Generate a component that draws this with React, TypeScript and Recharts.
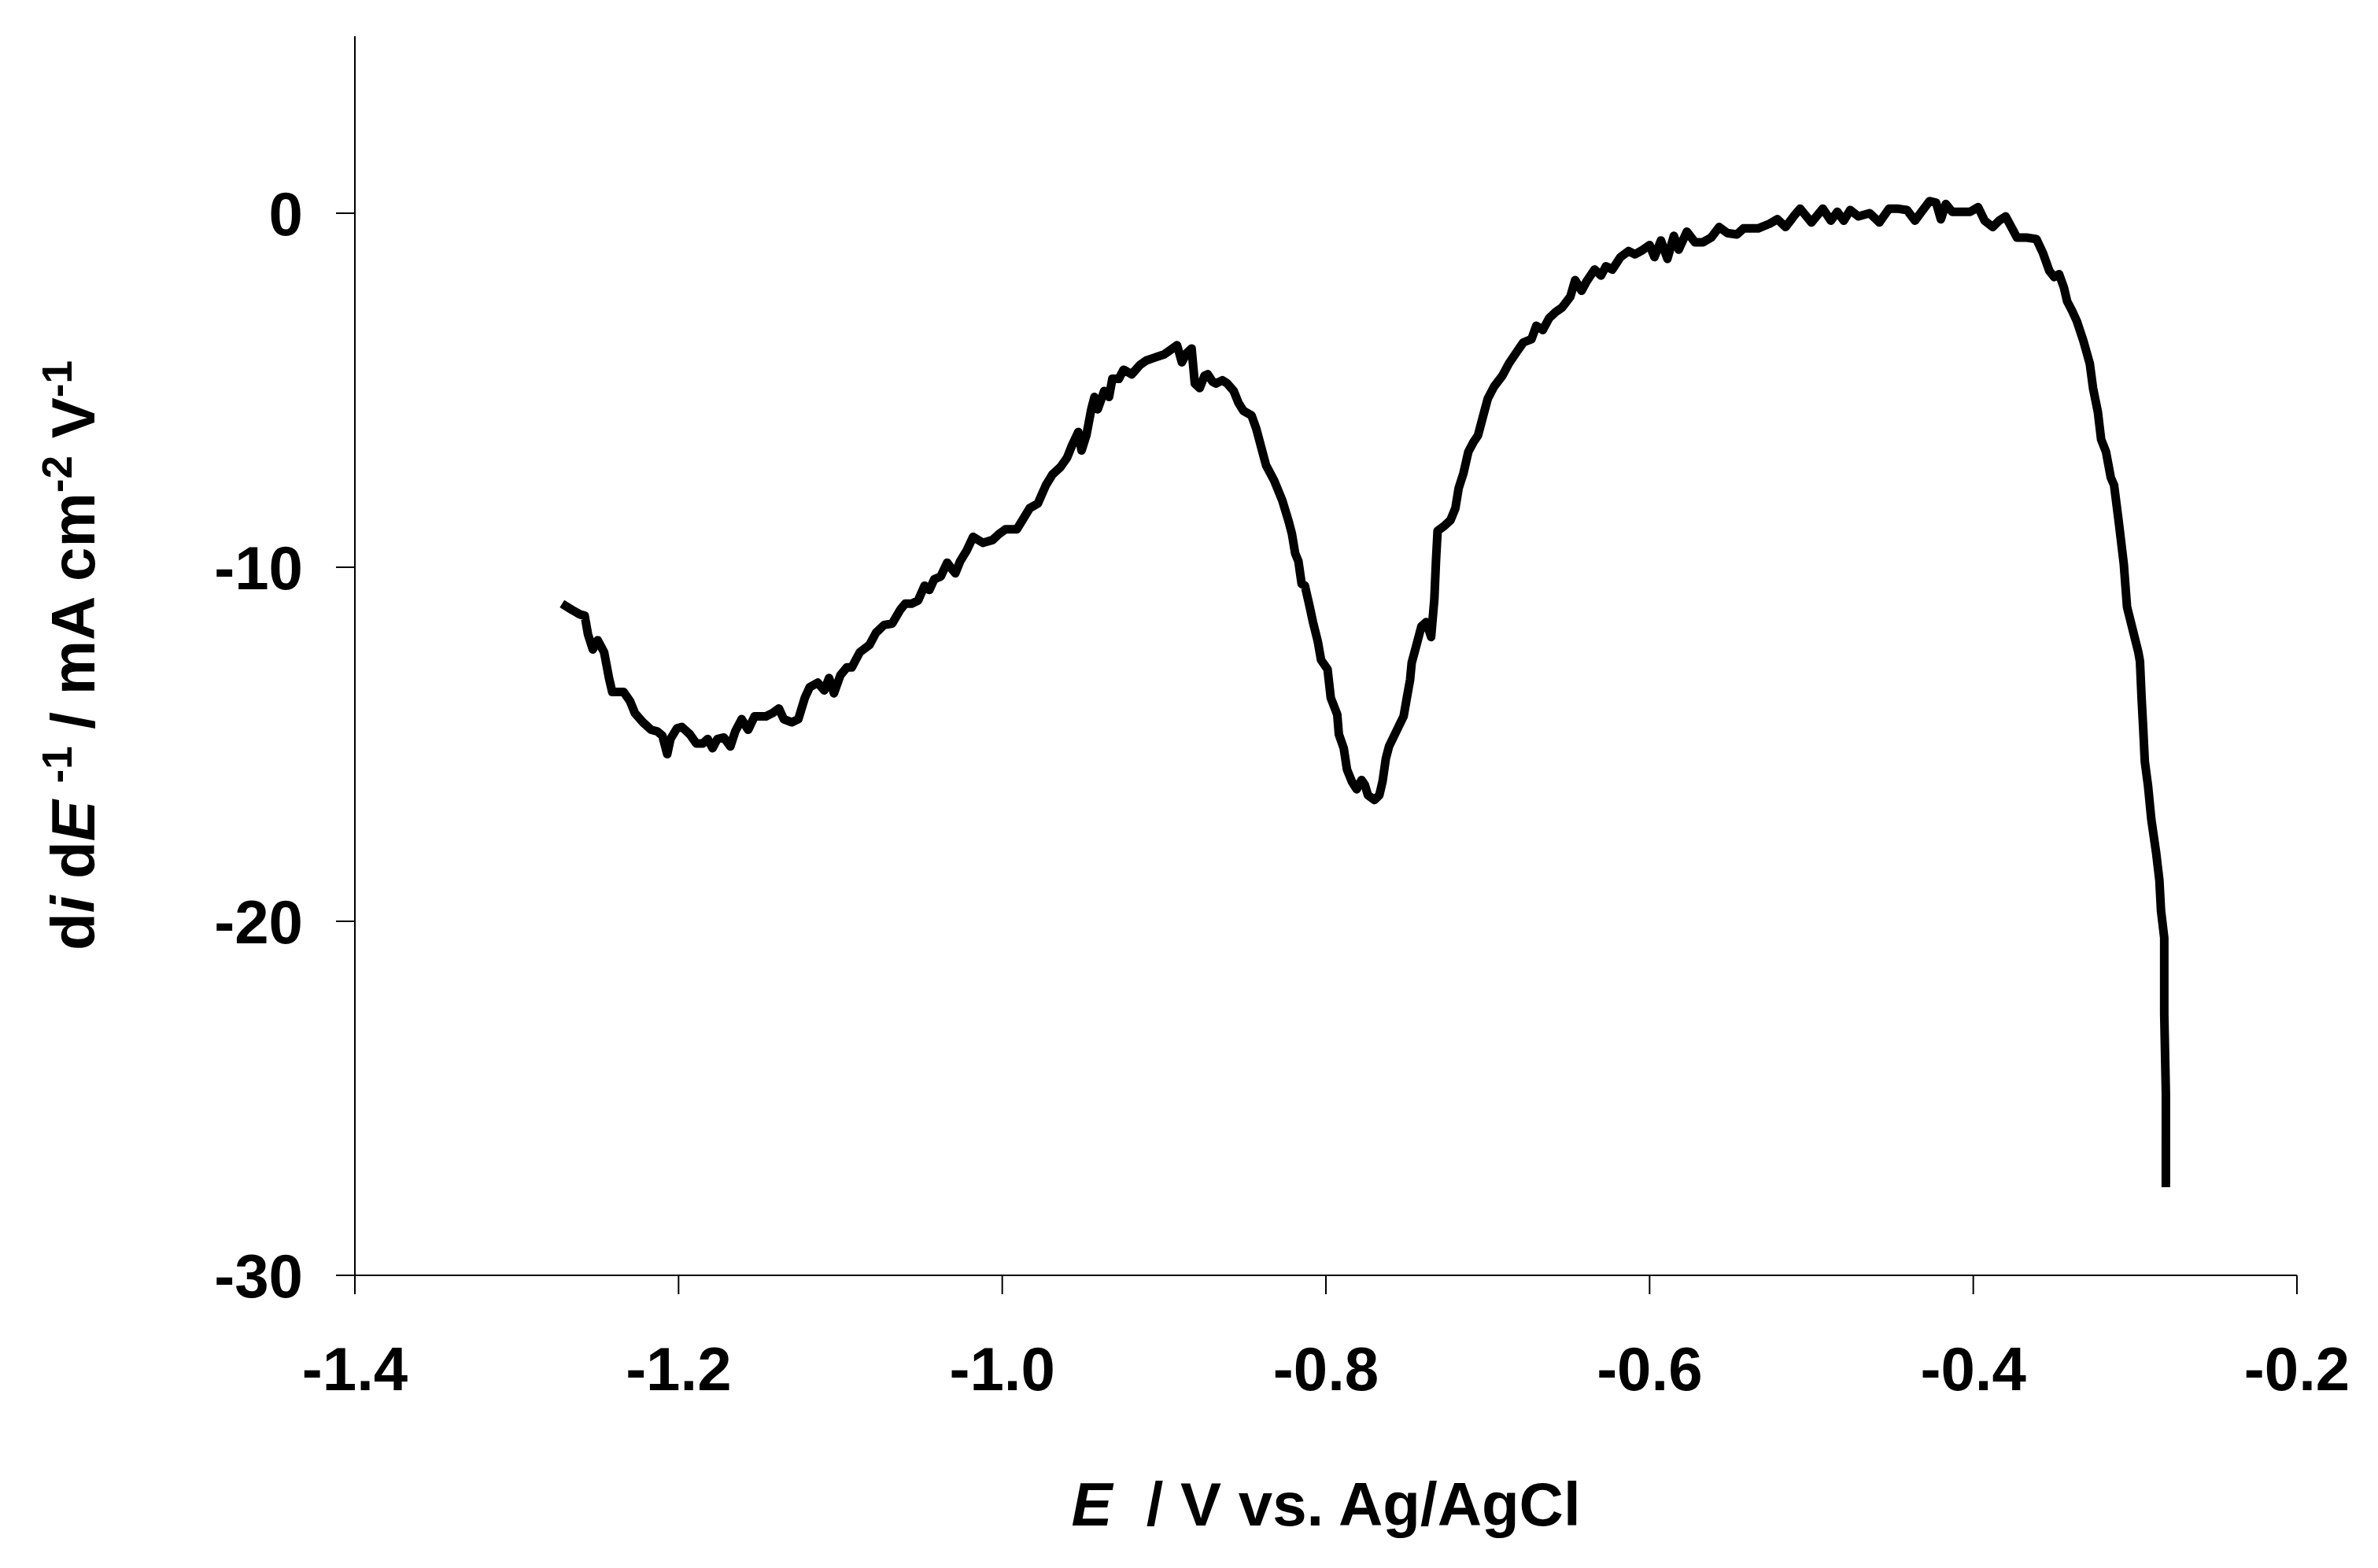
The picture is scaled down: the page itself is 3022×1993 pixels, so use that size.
import { LineChart, Line, XAxis, YAxis } from 'recharts';

// potential, V vs. Ag/AgCl
const potential = [
  -1.272, -1.266, -1.261, -1.258, -1.256, -1.253, -1.25, -1.246, -1.243, -1.241,
  -1.234, -1.23, -1.227, -1.222, -1.217, -1.213, -1.21, -1.207, -1.205, -1.201,
  -1.198, -1.193, -1.189, -1.185, -1.182, -1.179, -1.176, -1.172, -1.168, -1.165,
  -1.161, -1.157, -1.153, -1.146, -1.142, -1.138, -1.135, -1.13, -1.126, -1.122,
  -1.119, -1.114, -1.11, -1.107, -1.104, -1.1, -1.096, -1.093, -1.088, -1.082,
  -1.078, -1.073, -1.068, -1.063, -1.06, -1.056, -1.052, -1.048, -1.045, -1.042,
  -1.038, -1.034, -1.032, -1.029, -1.026, -1.022, -1.018, -1.012, -1.006, -1.002,
  -0.998, -0.991, -0.987, -0.983, -0.978, -0.973, -0.969, -0.964, -0.96, -0.957,
  -0.953, -0.951, -0.948, -0.945, -0.943, -0.941, -0.937, -0.934, -0.932, -0.928,
  -0.925, -0.92, -0.915, -0.911, -0.906, -0.9, -0.896, -0.892, -0.889, -0.886,
  -0.883, -0.881, -0.878, -0.875, -0.873, -0.87, -0.868, -0.864, -0.861, -0.857,
  -0.854, -0.851, -0.846, -0.843, -0.84, -0.837, -0.832, -0.827, -0.823, -0.821,
  -0.819, -0.817, -0.815, -0.813, -0.81, -0.808, -0.805, -0.803, -0.799, -0.797,
  -0.793, -0.792, -0.789, -0.787, -0.784, -0.781, -0.778, -0.776, -0.774, -0.77,
  -0.767, -0.765, -0.763, -0.761, -0.757, -0.752, -0.75, -0.748, -0.747, -0.744,
  -0.741, -0.738, -0.735, -0.733, -0.732, -0.731, -0.727, -0.723, -0.72, -0.718,
  -0.715, -0.712, -0.709, -0.706, -0.703, -0.7, -0.696, -0.691, -0.687, -0.682,
  -0.678, -0.673, -0.67, -0.666, -0.662, -0.658, -0.654, -0.649, -0.646, -0.642,
  -0.639, -0.634, -0.63, -0.627, -0.623, -0.618, -0.613, -0.609, -0.604, -0.6,
  -0.597, -0.593, -0.589, -0.585, -0.582, -0.577, -0.572, -0.567, -0.562, -0.557,
  -0.552, -0.546, -0.542, -0.533, -0.526, -0.521, -0.516, -0.511, -0.507, -0.5,
  -0.493, -0.488, -0.484, -0.48, -0.476, -0.471, -0.464, -0.458, -0.452, -0.447,
  -0.441, -0.436, -0.432, -0.427, -0.423, -0.42, -0.417, -0.413, -0.406, -0.402,
  -0.397, -0.393, -0.388, -0.384, -0.38, -0.376, -0.373, -0.367, -0.361, -0.357,
  -0.353, -0.35, -0.347, -0.344, -0.342, -0.339, -0.336, -0.332, -0.328, -0.326,
  -0.323, -0.321, -0.318, -0.315, -0.313, -0.31, -0.307, -0.305, -0.302, -0.298,
  -0.297, -0.296, -0.295, -0.294, -0.292, -0.29, -0.287, -0.285, -0.284, -0.282,
  -0.282, -0.281, -0.281,
];

// di/dE, mA cm-2 V-1
const didE = [
  -11.03, -11.2, -11.33, -11.37, -11.89, -12.32, -12.06, -12.4, -13.13, -13.52,
  -13.52, -13.78, -14.12, -14.38, -14.59, -14.64, -14.76, -15.28, -14.85, -14.55,
  -14.51, -14.72, -14.98, -14.98, -14.85, -15.11, -14.85, -14.81, -15.06, -14.64,
  -14.29, -14.59, -14.21, -14.21, -14.12, -13.99, -14.29, -14.38, -14.29, -13.69,
  -13.39, -13.26, -13.48, -13.13, -13.56, -13.05, -12.83, -12.83, -12.4, -12.19,
  -11.85, -11.63, -11.59, -11.2, -11.03, -11.03, -10.94, -10.52, -10.64, -10.34,
  -10.26, -9.87, -10.0, -10.17, -9.83, -9.53, -9.14, -9.31, -9.23, -9.06,
  -8.93, -8.93, -8.63, -8.33, -8.2, -7.68, -7.38, -7.17, -6.91, -6.57,
  -6.18, -6.7, -6.27, -5.54, -5.19, -5.54, -5.02, -5.19, -4.68, -4.68,
  -4.42, -4.55, -4.29, -4.16, -4.08, -3.99, -3.86, -3.73, -4.21, -3.95,
  -3.82, -4.81, -4.94, -4.59, -4.55, -4.76, -4.81, -4.72, -4.81, -5.02,
  -5.36, -5.58, -5.71, -6.09, -6.61, -7.12, -7.55, -8.11, -8.71, -9.06,
  -9.61, -9.83, -10.47, -10.52, -11.12, -11.55, -12.1, -12.62, -12.88, -13.69,
  -14.16, -14.72, -15.11, -15.71, -16.05, -16.27, -16.01, -16.14, -16.44, -16.57,
  -16.44, -16.05, -15.41, -15.06, -14.68, -14.21, -13.69, -13.18, -12.7, -12.19,
  -11.67, -11.55, -11.97, -10.9, -9.83, -8.97, -8.84, -8.67, -8.33, -7.77,
  -7.34, -6.74, -6.48, -6.27, -5.75, -5.24, -4.89, -4.59, -4.25, -3.91,
  -3.65, -3.56, -3.18, -3.3, -2.96, -2.79, -2.66, -2.36, -1.89, -2.19,
  -1.93, -1.59, -1.76, -1.5, -1.59, -1.24, -1.07, -1.16, -1.03, -0.9,
  -1.24, -0.77, -1.29, -0.64, -1.03, -0.52, -0.82, -0.82, -0.69, -0.39,
  -0.56, -0.6, -0.43, -0.43, -0.3, -0.17, -0.39, -0.09, 0.13, -0.26,
  0.13, -0.21, 0.04, -0.21, 0.09, -0.09, 0.0, -0.26, 0.13, 0.13,
  0.09, -0.21, 0.04, 0.34, 0.3, -0.17, 0.26, 0.04, 0.04, 0.04,
  0.17, -0.21, -0.39, -0.21, -0.09, -0.43, -0.69, -0.69, -0.73, -1.12,
  -1.63, -1.8, -1.72, -2.1, -2.49, -2.75, -3.05, -3.6, -4.25, -4.94,
  -5.62, -6.39, -6.74, -7.47, -7.68, -8.76, -9.91, -11.12, -11.67, -12.4,
  -12.66, -13.69, -14.55, -15.49, -16.18, -17.12, -18.07, -18.84, -19.7, -20.47,
  -22.62, -24.85, -27.51,
];

const xTicks = [-1.4, -1.2, -1.0, -0.8, -0.6, -0.4, -0.2];
const yTicks = [-30, -20, -10, 0];

const data = potential.map((E, i) => ({ E, d: didE[i] }));

const FONT = '"Liberation Sans", Arial, sans-serif';
const tickStyle = { fontFamily: FONT, fontWeight: 700, fontSize: 78, fill: '#000' };
const sup = { position: 'relative' as const, top: '-0.55em', fontSize: '0.68em' };

export default function App() {
  return (
    <div style={{ position: 'relative', width: 3022, height: 1993, background: '#fff' }}>
      <style>{'body{margin:0}'}</style>
      <LineChart width={3022} height={1993} data={data} margin={{ top: 46, right: 103, bottom: 0, left: 0 }}>
        <XAxis
          type="number"
          dataKey="E"
          domain={[-1.4, -0.2]}
          ticks={xTicks}
          allowDataOverflow
          tickFormatter={(v: number) => v.toFixed(1)}
          height={372}
          tickSize={24}
          tickMargin={67}
          stroke="#000"
          strokeWidth={2}
          tick={tickStyle}
        />
        <YAxis
          type="number"
          domain={[-30, 5]}
          ticks={yTicks}
          allowDataOverflow
          width={451}
          tickSize={24}
          tickMargin={42}
          stroke="#000"
          strokeWidth={2}
          tick={tickStyle}
        />
        <Line
          type="linear"
          dataKey="d"
          stroke="#000"
          strokeWidth={11}
          strokeLinejoin="round"
          dot={false}
          isAnimationActive={false}
        />
      </LineChart>
      <div
        style={{
          position: 'absolute',
          left: 1685,
          top: 1912,
          transform: 'translate(-50%, -50%)',
          fontFamily: FONT,
          fontWeight: 700,
          fontSize: 78,
          lineHeight: 1,
          whiteSpace: 'nowrap',
        }}
      >
        <i>E</i>&nbsp; / V vs. Ag/AgCl
      </div>
      <div
        style={{
          position: 'absolute',
          left: 93,
          top: 833,
          transform: 'translate(-50%, -50%) rotate(-90deg)',
          fontFamily: FONT,
          fontWeight: 700,
          fontSize: 78,
          lineHeight: 1,
          whiteSpace: 'nowrap',
        }}
      >
        d<i>i</i> d<i>E</i> <span style={sup}>-1</span> / mA cm<span style={sup}>-2</span> V<span style={sup}>-1</span>
      </div>
    </div>
  );
}
